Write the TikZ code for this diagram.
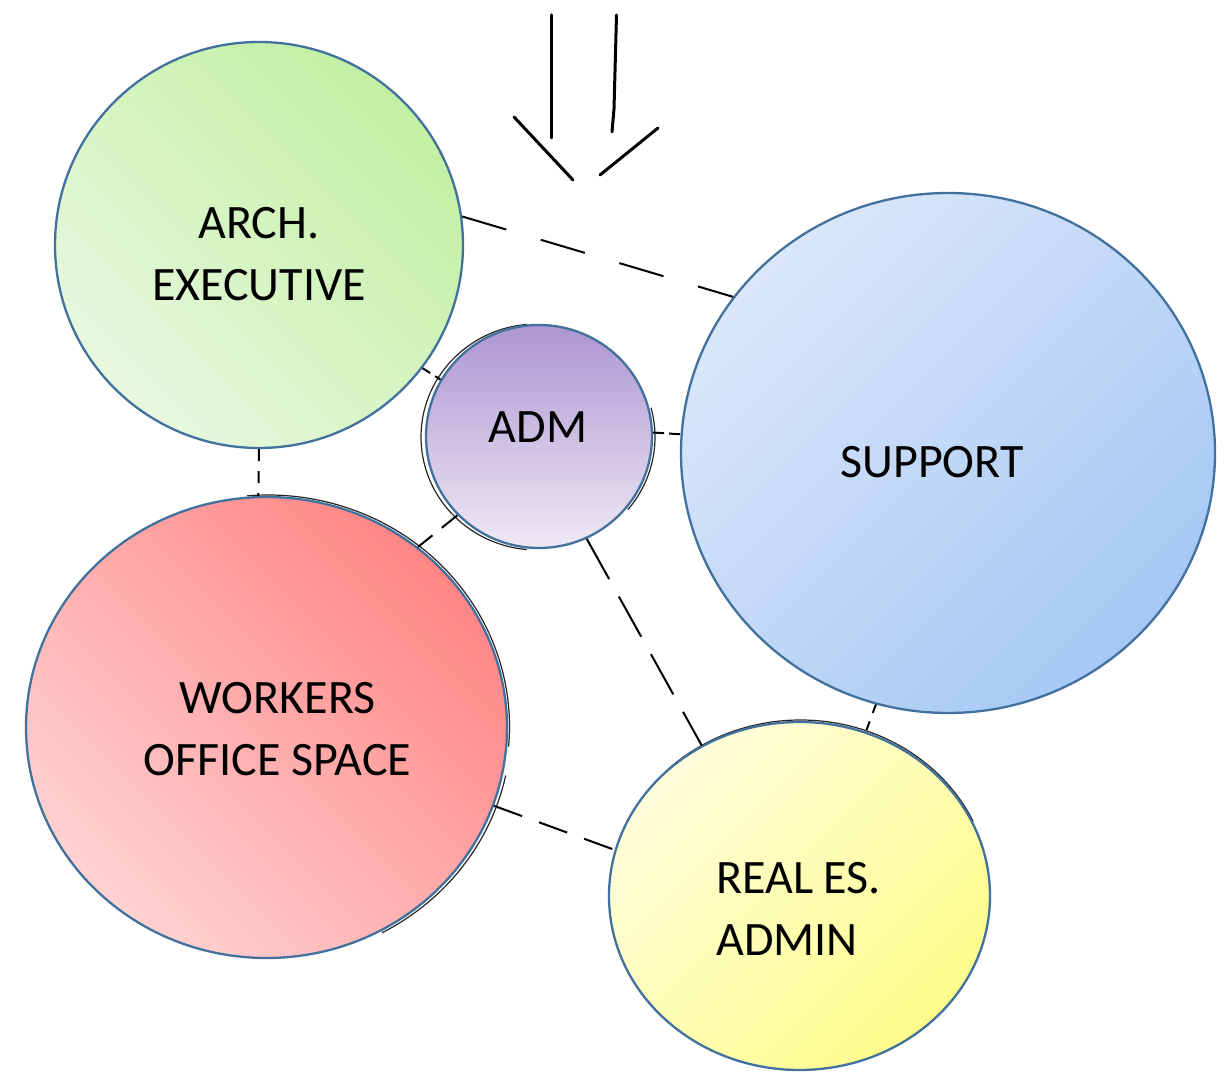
\documentclass[tikz,border=0pt]{standalone}
\usepackage{fontspec}
\setmainfont{Carlito}
\usetikzlibrary{shapes.geometric}
\definecolor{bordc}{HTML}{41719C}
\definecolor{grnD}{HTML}{C2F0A2}
\definecolor{grnL}{HTML}{E8F8E0}
\definecolor{redD}{HTML}{FF8585}
\definecolor{redL}{HTML}{FFD2D2}
\definecolor{bluL}{HTML}{DAE7FA}
\definecolor{bluD}{HTML}{A6C8F4}
\definecolor{yelL}{HTML}{FFFEDC}
\definecolor{yelD}{HTML}{FDFC8A}
\definecolor{purD}{HTML}{AD95D1}
\definecolor{purL}{HTML}{EEE9F5}
\begin{document}
\begin{tikzpicture}[x=1pt,y=1pt,
  bubble/.style={ellipse, draw=bordc, line width=2.3pt, inner sep=0pt},
  lbl/.style={font=\fontsize{48}{62}\selectfont, align=center, inner sep=0pt},
  link/.style={draw=black, line width=2pt},
  sketch/.style={draw=black!85, line width=1.2pt},
  pen/.style={draw=black, line width=3pt, line cap=round}]
\useasboundingbox (0,0) rectangle (1225,1071);
\fill[white] (0,0) rectangle (1225,1071);

% hand-drawn outlines behind the bubbles
\draw[sketch] (537,634) ++(95:116 and 113) arc[start angle=95, end angle=265, x radius=116, y radius=113];
\draw[sketch] (539,634) ++(-40:116 and 113) arc[start angle=-40, end angle=15, x radius=116, y radius=113];
\draw[sketch] (268,344.5) ++(95:241.5 and 231.5) arc[start angle=95, end angle=-5, x radius=241.5, y radius=231.5];
\draw[sketch] (268,344) ++(-12:243 and 233) arc[start angle=-12, end angle=-62, x radius=243, y radius=233];
\draw[sketch] (800.5,175.5) ++(135:190.5 and 175.5) arc[start angle=135, end angle=25, x radius=190.5, y radius=175.5];

% bubbles
\node[bubble, minimum width=408pt, minimum height=406pt, top color=grnD, bottom color=grnL, shading angle=-45] (arch) at (259,826) {};
\node[bubble, minimum width=226pt, minimum height=223pt, top color=purD, bottom color=purL] (adm) at (539,634.5) {};
\node[bubble, minimum width=534pt, minimum height=520pt, top color=bluL, bottom color=bluD, shading angle=45] (support) at (948,618) {};
\node[bubble, minimum width=481pt, minimum height=461pt, top color=redD, bottom color=redL, shading angle=-45] (workers) at (266.5,343.5) {};
\node[bubble, minimum width=381pt, minimum height=348pt, top color=yelL, bottom color=yelD, shading angle=45] (real) at (799.5,175) {};

% labels
\node[lbl] (archT) at (259,816.5) {ARCH.\\EXECUTIVE};
\node[lbl] (admT) at (538,644) {ADM};
\node[lbl] (supT) at (932,608.5) {SUPPORT};
\node[lbl] (wrkT) at (277.5,342) {WORKERS\\OFFICE SPACE};
\node[lbl, align=left, anchor=west] (realT) at (716,162.5) {REAL ES.\\ADMIN};

% dashed connectors
\draw[link, dash pattern=on 46pt off 36pt] (arch.8) -- (support.144);
\draw[link, dash pattern=on 12pt off 10pt] (arch.270) -- (workers.92);
\draw[link, dash pattern=on 9pt off 6pt] (arch.-37) -- (adm.150);
\draw[link, dash pattern=on 11pt off 5pt] (adm.2) -- (support.176);
\draw[link, dash pattern=on 20pt off 12pt] (adm.224) -- (workers.50);
\draw[link, dash pattern=on 46pt off 20pt] (adm.-65) -- (real.123);
\draw[link, dash pattern=on 9pt off 9pt] (support.-106) -- (real.68);
\draw[link, dash pattern=on 30pt off 18pt] (workers.-19) -- (real.166);

% entrance arrow
\coordinate (a1) at (551,1056);
\coordinate (a2) at (551,933);
\coordinate (b1) at (616.5,1056);
\coordinate (b2) at (614,962);
\coordinate (b3) at (612,939);
\coordinate (c1) at (514,954);
\coordinate (c2) at (573,891);
\coordinate (d1) at (600,896);
\coordinate (d2) at (658,943);
\draw[pen] (a1) -- (a2);
\draw[pen] (b1) -- (b2) -- (b3);
\draw[pen] (c1) -- (c2);
\draw[pen] (d1) -- (d2);
\end{tikzpicture}
\end{document}
